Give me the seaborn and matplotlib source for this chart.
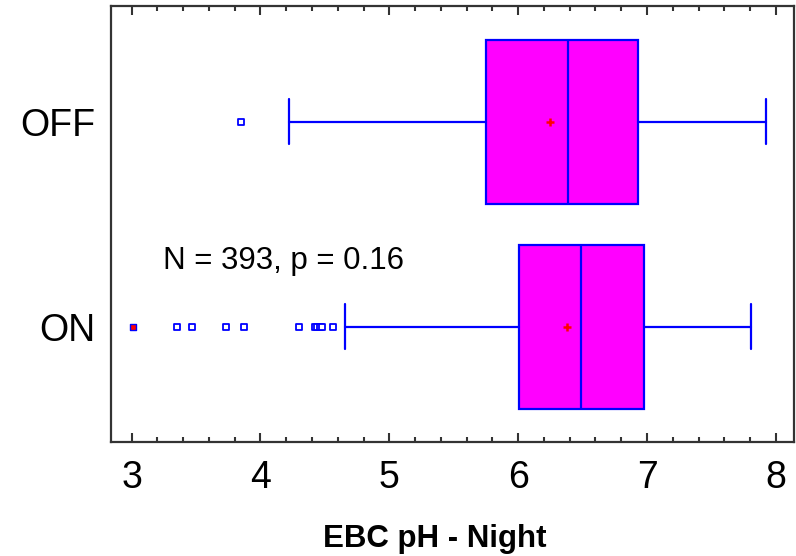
import matplotlib.pyplot as plt
import seaborn as sns
from matplotlib.ticker import MultipleLocator

sns.set_style("white")
plt.rcParams["font.family"] = ["Liberation Sans", "DejaVu Sans"]
plt.rcParams["text.color"] = "black"
plt.rcParams["xtick.color"] = "black"
plt.rcParams["ytick.color"] = "black"

# box statistics
groups = ["OFF", "ON"]
q1 = [5.75, 6.01]
medians = [6.39, 6.49]
q3 = [6.93, 6.98]
whisker_lo = [4.22, 4.66]
whisker_hi = [7.92, 7.81]
means = [6.25, 6.38]

# outside points
outlier_groups = ["OFF", "ON", "ON", "ON", "ON", "ON", "ON", "ON", "ON", "ON", "ON"]
outlier_values = [3.85, 3.35, 3.47, 3.73, 3.87, 4.30, 4.42, 4.44, 4.46, 4.48, 4.56]
far_groups = ["ON"]
far_values = [3.01]

blue = "#0000FF"
magenta = "#FF00FF"

fig = plt.figure(figsize=(7.96, 5.56), dpi=100)
ax = fig.add_axes([0.1394, 0.205, 0.858, 0.784])

# outliers (sets up the categorical y axis)
sns.stripplot(x=outlier_values, y=outlier_groups, order=groups, orient="h",
              jitter=False, marker="s", size=4.5, color="white",
              edgecolor=blue, linewidth=1.3, ax=ax, zorder=3)
sns.stripplot(x=far_values, y=far_groups, order=groups, orient="h",
              jitter=False, marker="s", size=4.5, color="red",
              edgecolor=blue, linewidth=1.0, ax=ax, zorder=3)

# boxes from the summary stats
stats = []
for g, a, m, b, lo, hi in zip(groups, q1, medians, q3, whisker_lo, whisker_hi):
    stats.append(dict(label=g, q1=a, med=m, q3=b, whislo=lo, whishi=hi, fliers=[]))

ax.bxp(stats, positions=range(len(groups)), widths=0.8, orientation="horizontal",
       patch_artist=True, showfliers=False, manage_ticks=False, capwidths=0.22,
       boxprops=dict(facecolor=magenta, edgecolor=blue, linewidth=1.6),
       medianprops=dict(color=blue, linewidth=1.6),
       whiskerprops=dict(color=blue, linewidth=1.6),
       capprops=dict(color=blue, linewidth=1.6))

# means
sns.stripplot(x=means, y=groups, order=groups, orient="h", jitter=False,
              marker="+", size=5.5, color="red", linewidth=1.8, ax=ax, zorder=4)

ax.set_xlim(2.84, 8.14)
ax.set_ylim(1.563, -0.563)
ax.set_ylabel("")
ax.set_xlabel("")

ax.xaxis.set_major_locator(MultipleLocator(1))
ax.xaxis.set_minor_locator(MultipleLocator(0.2))
ax.tick_params(axis="x", which="both", direction="in", top=True, bottom=True,
               width=1.5, color="#333333", labelsize=27, pad=13, labelcolor="black")
ax.tick_params(axis="x", which="major", length=6.5)
ax.tick_params(axis="x", which="minor", length=3.5)
ax.tick_params(axis="y", length=0, labelsize=27, pad=11, labelcolor="black")

for s in ax.spines.values():
    s.set_visible(True)
    s.set_color("#333333")
    s.set_linewidth(1.6)

ax.text(3.24, 0.72, "N = 393, p = 0.16", fontsize=22.5, va="baseline", ha="left",
        color="black")
fig.text(0.5465, 0.016, "EBC pH - Night", fontsize=22.5, fontweight="bold",
         ha="center", va="baseline", color="black")

fig.savefig("out.png", dpi=100)
